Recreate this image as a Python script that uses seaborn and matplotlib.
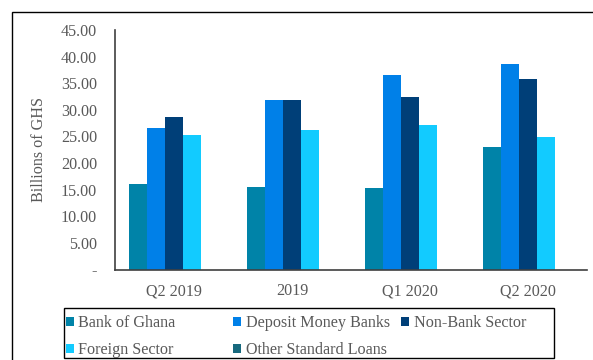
import matplotlib
matplotlib.use("Agg")
import matplotlib.pyplot as plt
from matplotlib.patches import Rectangle
from matplotlib.ticker import FuncFormatter
import seaborn as sns
import pandas as pd

# Periods on the x axis
periods = ["Q2 2019", "2019", "Q1 2020", "Q2 2020"]

# Holdings by sector, billions of GHS
bank_of_ghana = [16.0, 15.5, 15.4, 23.0]
deposit_money_banks = [26.6, 31.9, 36.5, 38.7]
non_bank_sector = [28.6, 31.8, 32.4, 35.8]
foreign_sector = [25.3, 26.3, 27.2, 24.9]
other_standard_loans = [0.0, 0.0, 0.0, 0.0]

series_names = ["Bank of Ghana", "Deposit Money Banks", "Non-Bank Sector",
                "Foreign Sector", "Other Standard Loans"]
series_values = [bank_of_ghana, deposit_money_banks, non_bank_sector,
                 foreign_sector, other_standard_loans]
series_colors = ["#0083A8", "#0080E8", "#003F78", "#12CBFF", "#17697E"]

y_ticks = [0, 5, 10, 15, 20, 25, 30, 35, 40, 45]

rows = []
for name, vals in zip(series_names, series_values):
    for p, v in zip(periods, vals):
        rows.append({"Period": p, "Sector": name, "Value": v})
df = pd.DataFrame(rows)

sns.set_theme(style="white")
plt.rcParams["font.family"] = ["Liberation Serif", "DejaVu Serif"]
text_color = "#595959"
fs = 11.6

W, H = 593, 360
fig = plt.figure(figsize=(W / 100, H / 100), dpi=100)
ax = fig.add_axes([115 / W, 1 - 269.5 / H, (587 - 115) / W, (269.5 - 30) / H])

sns.barplot(data=df, x="Period", y="Value", hue="Sector", order=periods,
            hue_order=series_names, palette=series_colors, width=0.77,
            errorbar=None, edgecolor="none", linewidth=0, saturation=1, ax=ax)

ax.set_xlim(-0.5, 3.5)
ax.set_ylim(0, 45)
ax.set_yticks(y_ticks)
ax.yaxis.set_major_formatter(FuncFormatter(lambda v, _: "-" if v == 0 else f"{v:.2f}"))
ax.set_xlabel("")
ax.set_ylabel("Billions of GHS", fontsize=fs, color=text_color, labelpad=10)
ax.tick_params(axis="both", length=0, labelsize=fs, labelcolor=text_color)
ax.tick_params(axis="y", pad=13)
ax.tick_params(axis="x", pad=10)
for side in ["top", "right"]:
    ax.spines[side].set_visible(False)
for side in ["left", "bottom"]:
    ax.spines[side].set_color("#404040")
    ax.spines[side].set_linewidth(1.2)
ax.grid(False)

handles, labels = ax.get_legend_handles_labels()
ax.get_legend().remove()
lookup = dict(zip(labels, handles))

# Legend laid out in fixed-width columns inside one framed box
columns = [(["Bank of Ghana", "Foreign Sector"], 64),
           (["Deposit Money Banks", "Other Standard Loans"], 231),
           (["Non-Bank Sector"], 399)]
for names, x0 in columns:
    fig.legend([lookup[n] for n in names], names, loc="upper left",
               bbox_to_anchor=(x0 / W, 1 - 313 / H), frameon=False,
               fontsize=fs, labelcolor=text_color, handlelength=0.5,
               handleheight=0.5, handletextpad=0.25, labelspacing=0.66,
               borderpad=0.15, borderaxespad=0)

fig.patches.append(Rectangle((64 / W, 1 - 358 / H), (554 - 64) / W, 50 / H,
                             transform=fig.transFigure, fill=False,
                             edgecolor="#000000", linewidth=1.0))
# Outer chart frame
fig.patches.append(Rectangle((12 / W, -0.05), 1.2, 1 - 12 / H + 0.05,
                             transform=fig.transFigure, fill=False,
                             edgecolor="#000000", linewidth=1.0))

fig.savefig("out.png", dpi=100)
